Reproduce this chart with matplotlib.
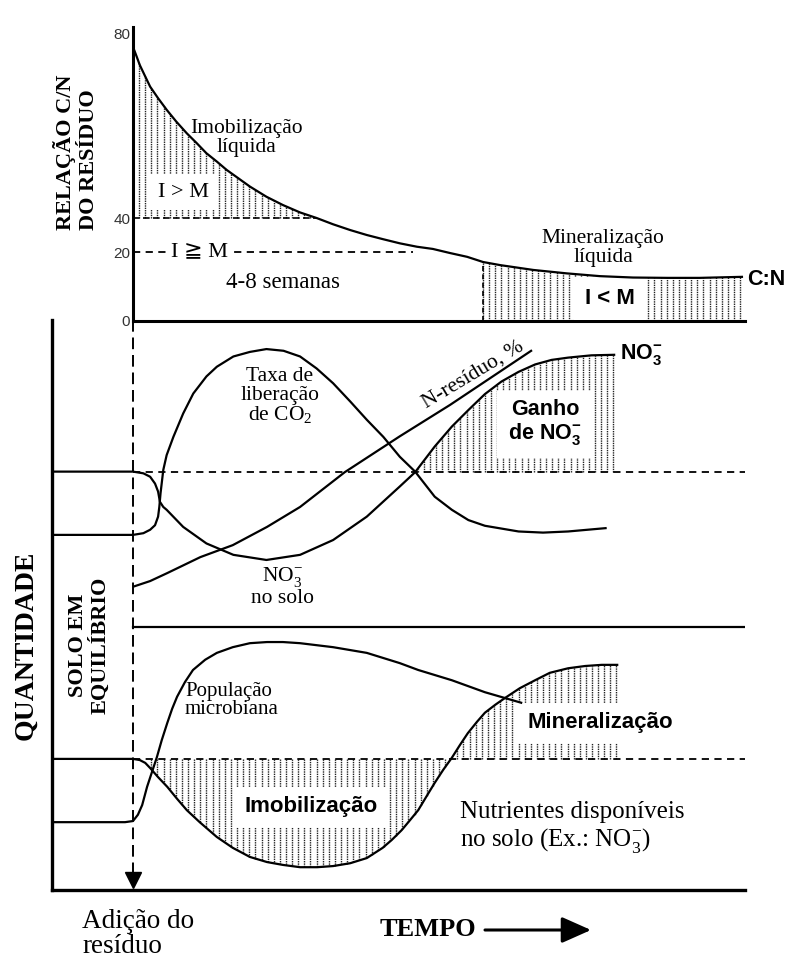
import numpy as np
import matplotlib.pyplot as plt
from matplotlib.ticker import NullLocator

SERIF = ['Liberation Serif', 'DejaVu Serif', 'DejaVu Sans']
SANS = ['Liberation Sans', 'DejaVu Sans']
plt.rcParams['font.family'] = SERIF

# --- top panel: C/N ratio of the residue (time in arbitrary units, residue added at t = 0)
cn_time = [0, 0.6, 1.1, 2.0, 2.8, 4.1, 5.5, 7.1, 8.8, 10.4, 12.0, 13.7, 15.3, 17.2, 19.1,
           21.8, 24.5, 27.3, 30.0, 32.7, 35.5, 38.2, 40.9, 43.6, 46.4, 49.0, 51.8, 54.6,
           57.2, 60.0, 65.4, 70.9, 76.3, 81.7, 87.3, 92.6, 99.5]
cn_ratio = [77.0, 74.9, 73.1, 70.6, 68.4, 65.9, 63.4, 60.8, 58.3, 56.2, 54.0, 52.2, 50.4,
            48.6, 46.8, 44.6, 42.8, 41.2, 40.0, 36.3, 32.9, 30.0, 27.5, 25.1, 23.1, 21.8,
            19.7, 18.6, 17.1, 16.2, 14.8, 13.8, 13.0, 12.6, 12.5, 12.5, 12.8]
cn_ticks = [0, 20, 40, 80]
cn_high, cn_mid = 40, 20
t_imob_end, t_min_start = 30.0, 57.2

# --- lower panel: relative quantities (0-100)
co2_time = [-13.2, 0, 1.7, 2.8, 3.6, 4.1, 4.3, 4.5, 4.95, 5.5, 6.6, 8.2, 9.85, 12.0, 13.7,
            16.4, 19.1, 21.8, 24.6, 27.3, 30.0, 32.7, 35.5, 38.2, 40.9, 43.6, 46.1, 49.3,
            52.1, 54.8, 57.5, 63.0, 67.0, 71.1, 77.4]
co2_rate = [62.3, 62.3, 62.6, 63.2, 64.0, 65.5, 67.2, 69.6, 73.7, 76.3, 79.5, 83.6, 87.1,
            90.1, 91.8, 93.6, 94.4, 94.9, 94.6, 93.6, 91.5, 88.9, 85.7, 82.5, 79.5, 76.0,
            73.4, 69.0, 66.7, 64.9, 63.9, 62.9, 62.7, 62.9, 63.5]

no3_time = [-13.2, 0, 1.7, 2.8, 3.6, 4.1, 4.4, 4.95, 5.5, 8.2, 12.0, 16.4, 21.8, 27.3,
            32.7, 38.2, 43.6, 46.1, 49.3, 52.1, 54.8, 57.5, 60.2, 63.0, 65.7, 68.4, 71.1,
            74.9, 78.8]
no3_soil = [73.4, 73.4, 73.1, 72.5, 71.3, 69.9, 68.1, 67.2, 66.7, 63.7, 60.8, 58.8, 57.9,
            58.8, 61.4, 65.5, 70.8, 73.3, 77.8, 81.3, 84.2, 87.0, 89.2, 90.9, 92.2, 93.0,
            93.4, 93.8, 93.9]

nres_time = [0, 2.8, 5.6, 11.0, 16.3, 21.9, 27.3, 34.6, 43.6, 51.8, 65.2]
nres_pct = [53.2, 54.2, 55.6, 58.4, 60.5, 63.7, 67.2, 73.3, 79.6, 85.1, 94.7]

pop_time = [-13.2, -1.3, 0, 0.8, 1.5, 2.3, 3.1, 3.9, 4.7, 5.6, 6.4, 7.2, 8.5, 9.8, 11.8,
            13.7, 16.3, 19.1, 21.9, 24.5, 27.3, 32.7, 38.2, 43.6, 46.6, 52.1, 57.5, 63.6]
pop_microbial = [11.9, 11.9, 12.1, 13.2, 14.9, 18.1, 20.7, 23.3, 26.3, 29.3, 31.8, 33.9,
                 36.5, 38.6, 40.4, 41.6, 42.6, 43.3, 43.5, 43.5, 43.3, 42.6, 41.6, 39.8,
                 38.6, 36.8, 34.7, 32.8]

nut_time = [-13.2, 0, 1.1, 2.0, 2.8, 4.1, 5.6, 7.2, 8.8, 10.9, 13.7, 16.3, 19.1, 21.9,
            24.5, 27.3, 30.1, 32.7, 35.5, 38.2, 40.8, 42.3, 43.9, 45.3, 46.6, 48.0, 49.3,
            50.7, 52.1, 53.4, 54.7, 56.2, 57.5, 59.2, 60.8, 63.2, 65.7, 68.1, 71.1, 73.9,
            76.6, 79.3]
nut_avail = [23.0, 23.0, 22.8, 22.3, 21.4, 19.8, 18.1, 16.0, 14.0, 11.9, 9.3, 7.4, 5.8,
             4.9, 4.4, 4.0, 4.0, 4.2, 4.7, 5.6, 7.4, 8.8, 10.5, 12.3, 14.0, 16.5, 18.8,
             21.1, 23.2, 25.4, 27.5, 29.5, 31.1, 32.5, 33.7, 35.4, 36.8, 38.1, 38.9, 39.3,
             39.5, 39.5]

no3_eq, nut_eq, panel_split = 73.4, 23.0, 46.1

W, H = 785, 960


def box(x0, y0, x1, y1):
    return [x0 / W, 1 - y1 / H, (x1 - x0) / W, (y1 - y0) / H]


def hatch(ax, t0, t1, base, t, y, step=1.0):
    xs = np.arange(t0, t1 + 1e-9, step)
    ax.vlines(xs, base, np.interp(xs, t, y), colors='#222222',
              linestyles=(0, (1, 0.7)), linewidth=1.0, zorder=1)


def cn_fwd(v):
    return np.interp(v, [0, 20, 40, 80, 100], [0, 69, 103, 288, 380.5])


def cn_inv(p):
    return np.interp(p, [0, 69, 103, 288, 380.5], [0, 20, 40, 80, 100])


def white(pad):
    return dict(facecolor='white', edgecolor='none', pad=pad)


fig = plt.figure(figsize=(W / 100, H / 100), dpi=100)
lw = 1.6

# ---------------- top panel ----------------
ax = fig.add_axes(box(133, 27, 745, 321))
ax.set_yscale('function', functions=(cn_fwd, cn_inv))
ax.set_xlim(0, 100)
ax.set_ylim(0, 81.3)
for s in ['top', 'right']:
    ax.spines[s].set_visible(False)
for s in ['left', 'bottom']:
    ax.spines[s].set_linewidth(2.2)
ax.set_xticks([])
ax.set_yticks(cn_ticks)
ax.yaxis.set_minor_locator(NullLocator())
ax.tick_params(axis='y', length=0, pad=2, labelsize=11, labelcolor='#333333')
for lab in ax.get_yticklabels():
    lab.set_family(SANS)

ax.plot(cn_time, cn_ratio, color='k', lw=lw, zorder=5)
hatch(ax, 0, t_imob_end, cn_high, cn_time, cn_ratio)
hatch(ax, t_min_start, cn_time[-1], 0, cn_time, cn_ratio)
ax.plot([0, t_imob_end], [cn_high, cn_high], color='k', lw=1.2, ls=(0, (4, 2)), zorder=2)
ax.plot([0, 45.8], [cn_mid, cn_mid], color='k', lw=1.3, ls=(0, (4, 3)), zorder=2)
ax.plot([t_min_start, t_min_start], [0, np.interp(t_min_start, cn_time, cn_ratio)],
        color='k', lw=1.2, ls=(0, (3, 2)), zorder=2)

ax.text(18.6, 57.3, 'Imobilização\nlíquida', ha='center', va='center', fontsize=15.5,
        linespacing=1.0, zorder=4)
ax.text(8.2, 45.6, 'I > M', ha='center', va='center', fontsize=16, bbox=white(6), zorder=4)
ax.text(10.9, 20, 'I ≧ M', ha='center', va='center', fontsize=16, bbox=white(4), zorder=4)
ax.text(24.5, 11.3, '4-8 semanas', ha='center', va='center', fontsize=16.5)
ax.text(76.8, 22.6, 'Mineralização\nlíquida', ha='center', va='center', fontsize=15.5,
        linespacing=1.0)
ax.text(77.9, 6.6, 'I < M', ha='center', va='center', fontsize=16, family=SANS,
        weight='bold', bbox=white(8), zorder=4)
ax.text(100.4, 12.0, 'C:N', ha='left', va='center', fontsize=15.5, family=SANS,
        weight='bold', clip_on=False)

# ---------------- lower panel ----------------
ax2 = fig.add_axes(box(52, 320, 745, 890))
ax2.patch.set_visible(False)
ax2.set_xlim(-13.235, 100)
ax2.set_ylim(0, 100)
for s in ['top', 'right']:
    ax2.spines[s].set_visible(False)
for s in ['left', 'bottom']:
    ax2.spines[s].set_linewidth(2.4)
ax2.set_xticks([])
ax2.set_yticks([])

# reference levels
ax2.plot([0, 100], [no3_eq, no3_eq], color='k', lw=1.3, ls=(0, (4, 3)), zorder=2)
ax2.plot([0, 100], [nut_eq, nut_eq], color='k', lw=1.3, ls=(0, (4, 3)), zorder=2)
ax2.plot([0, 100], [panel_split, panel_split], color='k', lw=1.6, zorder=2)
ax2.plot([0, 0], [100, 3], color='k', lw=1.4, ls=(0, (6, 3)), zorder=2)
ax2.plot(0, 1.7, marker='v', ms=11, color='k', clip_on=False, zorder=5)

# curves
for t, y in [(co2_time, co2_rate), (no3_time, no3_soil), (nres_time, nres_pct),
             (pop_time, pop_microbial), (nut_time, nut_avail)]:
    ax2.plot(t, y, color='k', lw=lw, zorder=5, solid_capstyle='butt',
             solid_joinstyle='round')

hatch(ax2, 46.5, no3_time[-1], no3_eq, no3_time, no3_soil)
hatch(ax2, 3.0, 52.0, nut_eq, nut_time, nut_avail)
hatch(ax2, 53.0, 79.0, nut_eq, nut_time, nut_avail)

ax2.text(24.0, 86.6, 'Taxa de\nliberação\nde CO$_\\mathregular{2}$', ha='center',
         va='center', fontsize=15.5, linespacing=1.0)
ax2.text(24.5, 53.3, 'NO$_\\mathregular{3}^\\mathregular{-}$\nno solo', ha='center',
         va='center', fontsize=15.5, linespacing=1.0)
ax2.text(56.4, 89.0, 'N-resíduo, %', ha='center', va='bottom', rotation=31,
         rotation_mode='anchor', fontsize=15.5)
ax2.text(79.6, 93.9, 'NO$_\\mathregular{3}^\\mathregular{-}$', ha='left', va='center',
         fontsize=15.5, family=SANS, weight='bold')
ax2.text(67.3, 81.9, 'Ganho\nde NO$_\\mathregular{3}^\\mathregular{-}$', ha='center',
         va='center', fontsize=15.5, family=SANS, weight='bold', linespacing=1.05,
         bbox=white(8), zorder=4)
ax2.text(8.5, 33.2, 'População\nmicrobiana', ha='left', va='center', fontsize=15,
         linespacing=0.9)
ax2.text(29.1, 14.6, 'Imobilização', ha='center', va='center', fontsize=16, family=SANS,
         weight='bold', bbox=white(7), zorder=4)
ax2.text(76.3, 29.3, 'Mineralização', ha='center', va='center', fontsize=16, family=SANS,
         weight='bold', bbox=white(7), zorder=4)
ax2.text(53.4, 10.9, 'Nutrientes disponíveis\nno solo (Ex.: NO$_\\mathregular{3}^\\mathregular{-}$)',
         ha='left', va='center', fontsize=18, linespacing=1.15)
ax2.text(-7.2, 43.0, 'SOLO EM\nEQUILÍBRIO', ha='center', va='center', rotation=90,
         fontsize=16, weight='bold', linespacing=1.1)

# ---------------- figure-level labels ----------------
fig.text(76 / W, 1 - 230 / H, 'RELAÇÃO C/N\nDO RESÍDUO', rotation=90, ha='center',
         va='bottom', multialignment='left', fontsize=16, weight='bold', linespacing=1.2)
fig.text(26 / W, 1 - 645 / H, 'QUANTIDADE', rotation=90, ha='center', va='center',
         fontsize=20, weight='bold')
fig.text(82 / W, 1 - 934 / H, 'Adição do\nresíduo', ha='left', va='center', fontsize=19.5,
         linespacing=1.0)
fig.text(380 / W, 1 - 930 / H, 'TEMPO', ha='left', va='center', fontsize=19, weight='bold')
ax2.annotate('', xy=(591, H - 930), xytext=(485, H - 930), xycoords='figure pixels',
             textcoords='figure pixels',
             arrowprops=dict(arrowstyle='-|>,head_length=0.9,head_width=0.4', lw=2.2,
                             color='k', mutation_scale=20, shrinkA=0, shrinkB=0))

fig.savefig('out.png', dpi=100, facecolor='white')
